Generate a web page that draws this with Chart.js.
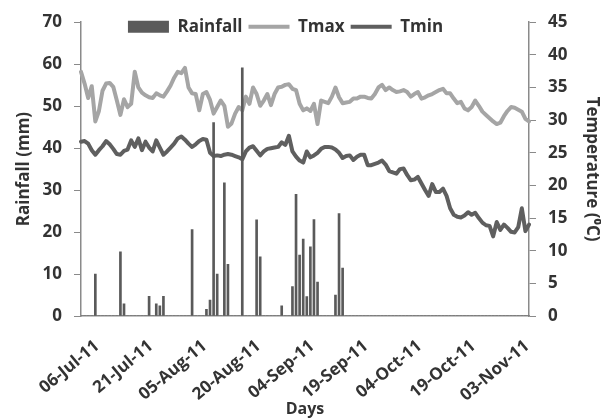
<!DOCTYPE html>
<html>
<head>
<meta charset="utf-8">
<script src="https://cdn.jsdelivr.net/npm/chart.js@4"></script>
<style>
  body { margin: 0; background: #fff; }
  canvas { display: block; }
</style>
</head>
<body>
<canvas id="chart" width="601" height="420"></canvas>
<script>
// daily series, 06-Jul-11 .. 08-Nov-11 (126 days)
const tmax = [
  37.4, 35.6, 33.4, 35.2, 29.8, 31.4, 34.5, 35.6, 35.7, 35.1,
  33.0, 30.8, 33.2, 32.0, 32.5, 37.4, 35.0, 34.2, 33.8, 33.5,
  33.4, 34.1, 33.8, 33.6, 34.4, 35.3, 36.5, 37.4, 37.2, 38.0,
  35.0, 34.1, 34.0, 31.5, 34.0, 34.3, 33.1, 31.0, 32.0, 33.0,
  32.2, 29.0, 29.5, 31.0, 32.0, 31.5, 33.6, 32.5, 35.0, 34.0,
  32.2, 33.0, 34.0, 32.3, 34.0, 35.0, 35.1, 35.4, 35.5, 34.8,
  34.6, 32.5, 31.5, 31.8, 31.4, 32.5, 29.4, 33.0, 32.8, 32.6,
  33.6, 35.0, 33.5, 32.6, 32.7, 32.8, 33.3, 33.3, 33.6, 33.6,
  33.4, 33.3, 34.0, 35.0, 35.4, 34.6, 35.0, 34.6, 34.3, 34.4,
  34.6, 34.3, 33.6, 34.0, 34.3, 33.3, 33.5, 33.8, 34.0, 34.3,
  34.6, 34.8, 34.1, 34.1, 33.3, 32.6, 32.8, 31.8, 31.5, 32.0,
  33.0, 32.2, 31.3, 30.8, 30.3, 29.8, 29.4, 29.6, 30.6, 31.4,
  32.0, 31.9, 31.6, 31.3, 30.2, 29.8
];

const tmin = [
  26.7, 26.8, 26.4, 25.4, 24.7, 25.4, 26.0, 26.8, 26.3, 25.6,
  24.8, 24.7, 25.3, 25.5, 26.9, 25.9, 27.2, 25.4, 26.7, 25.8,
  25.2, 26.9, 25.8, 24.7, 25.2, 25.8, 26.4, 27.2, 27.5, 27.0,
  26.4, 25.9, 26.3, 26.8, 27.1, 27.0, 25.0, 24.5, 24.6, 24.5,
  24.7, 24.8, 24.7, 24.5, 24.3, 24.0, 25.2, 25.8, 26.0, 25.3,
  24.6, 25.2, 25.6, 25.7, 25.8, 25.9, 26.6, 26.2, 27.6, 25.2,
  24.4, 23.8, 23.5, 25.2, 24.3, 24.6, 25.0, 25.6, 25.9, 25.9,
  25.8, 25.5, 25.0, 24.2, 24.5, 24.6, 23.9, 24.4, 24.7, 24.7,
  23.1, 23.1, 23.3, 23.5, 23.8, 23.2, 22.2, 22.0, 21.8, 22.5,
  22.6, 21.6, 20.8, 20.9, 21.3, 20.3, 19.3, 18.4, 20.2, 19.0,
  19.0, 19.5, 18.4, 16.5, 15.5, 15.2, 15.1, 15.4, 15.9, 15.5,
  15.8, 15.0, 14.3, 13.9, 13.8, 12.2, 14.4, 13.2, 14.0, 13.5,
  12.9, 12.8, 13.6, 16.5, 13.0, 14.0
];

// rainy days (index from 06-Jul) and amount in mm
const rainDay = [4, 11, 12, 19, 21, 22, 23, 31, 35, 36, 37, 38, 40, 41, 45,
                 49, 50, 56, 59, 60, 61, 62, 63, 64, 65, 66, 71, 72, 73];
const rainMm = [10.0, 15.3, 2.9, 4.7, 2.9, 2.4, 4.7, 20.6, 1.6, 3.8, 46.1, 10.0, 31.7, 12.3, 59.1,
                22.9, 14.1, 2.4, 7.0, 29.0, 14.5, 18.3, 4.6, 16.5, 23.0, 8.1, 5.0, 24.4, 11.4];

const months = ["Jan", "Feb", "Mar", "Apr", "May", "Jun", "Jul", "Aug", "Sep", "Oct", "Nov", "Dec"];
const tickEvery = 15;

const days = tmax.map((v, i) => {
  const d = new Date(2011, 6, 6 + i);
  return String(d.getDate()).padStart(2, "0") + "-" + months[d.getMonth()] + "-11";
});

const rainfall = days.map(() => 0);
rainDay.forEach((d, i) => { rainfall[d] = rainMm[i]; });

const axisGrey = "#8a8a8a";
const txt = "#333333";
const boldFont = size => ({ family: "Open Sans", size: size, weight: "bold" });

// nudge the legend down into the plot top, like the original
const legendShift = {
  id: "legendShift",
  afterLayout(chart) {
    const lg = chart.legend;
    lg.top += 12; lg.bottom += 18;
    lg.left -= 15; lg.right -= 15;
  }
};

new Chart(document.getElementById("chart"), {
  type: "bar",
  data: {
    labels: days,
    datasets: [
      {
        label: "Rainfall",
        data: rainfall,
        backgroundColor: "#5a5a5a",
        barThickness: 2,
        yAxisID: "y",
        order: 0,
        pointStyle: "rect"
      },
      {
        type: "line",
        label: "Tmax",
        data: tmax,
        borderColor: "#a5a5a5",
        backgroundColor: "#a5a5a5",
        borderWidth: 4,
        pointRadius: 0,
        borderJoinStyle: "round",
        borderCapStyle: "round",
        yAxisID: "y1",
        order: 1,
        pointStyle: "line"
      },
      {
        type: "line",
        label: "Tmin",
        data: tmin,
        borderColor: "#5f5f5f",
        backgroundColor: "#5f5f5f",
        borderWidth: 4,
        pointRadius: 0,
        borderJoinStyle: "round",
        borderCapStyle: "round",
        yAxisID: "y1",
        order: 2,
        pointStyle: "line"
      }
    ]
  },
  options: {
    responsive: false,
    animation: false,
    layout: { padding: 0 },
    plugins: {
      tooltip: { enabled: false },
      legend: {
        position: "top",
        maxHeight: 22,
        labels: {
          usePointStyle: true,
          pointStyleWidth: 41,
          boxHeight: 12,
          padding: 6,
          color: txt,
          font: boldFont(17)
        }
      }
    },
    scales: {
      x: {
        offset: false,
        grid: { display: false, drawTicks: false },
        border: { color: axisGrey, width: 1.5 },
        ticks: {
          autoSkip: false,
          minRotation: 40,
          maxRotation: 40,
          padding: 20,
          labelOffset: 16,
          color: txt,
          font: boldFont(17),
          callback: function (val, i) {
            return i % tickEvery === 0 ? this.getLabelForValue(val) : null;
          }
        },
        title: {
          display: true,
          text: "Days",
          color: txt,
          font: boldFont(16),
          padding: { top: 0, bottom: 1 }
        },
        afterFit: s => { s.height = 104; }
      },
      y: {
        position: "left",
        min: 0,
        max: 70,
        grid: { drawOnChartArea: false, tickLength: 7, color: axisGrey },
        border: { color: axisGrey, width: 1.5 },
        ticks: { stepSize: 10, padding: 12, color: txt, font: boldFont(17) },
        title: {
          display: true,
          text: "Rainfall (mm)",
          color: txt,
          font: boldFont(17),
          padding: { top: 14, bottom: 0 }
        },
        afterFit: s => { s.width = 81; }
      },
      y1: {
        position: "right",
        min: 0,
        max: 45,
        grid: { drawOnChartArea: false, tickLength: 7, color: axisGrey },
        border: { color: axisGrey, width: 1.5 },
        ticks: { stepSize: 5, padding: 12, color: txt, font: boldFont(17) },
        title: {
          display: true,
          text: "Temperature (\u2070C)",
          color: txt,
          font: boldFont(17),
          padding: { top: -1, bottom: 0 }
        },
        afterFit: s => { s.width = 72; }
      }
    }
  },
  plugins: [legendShift]
});
</script>
</body>
</html>
